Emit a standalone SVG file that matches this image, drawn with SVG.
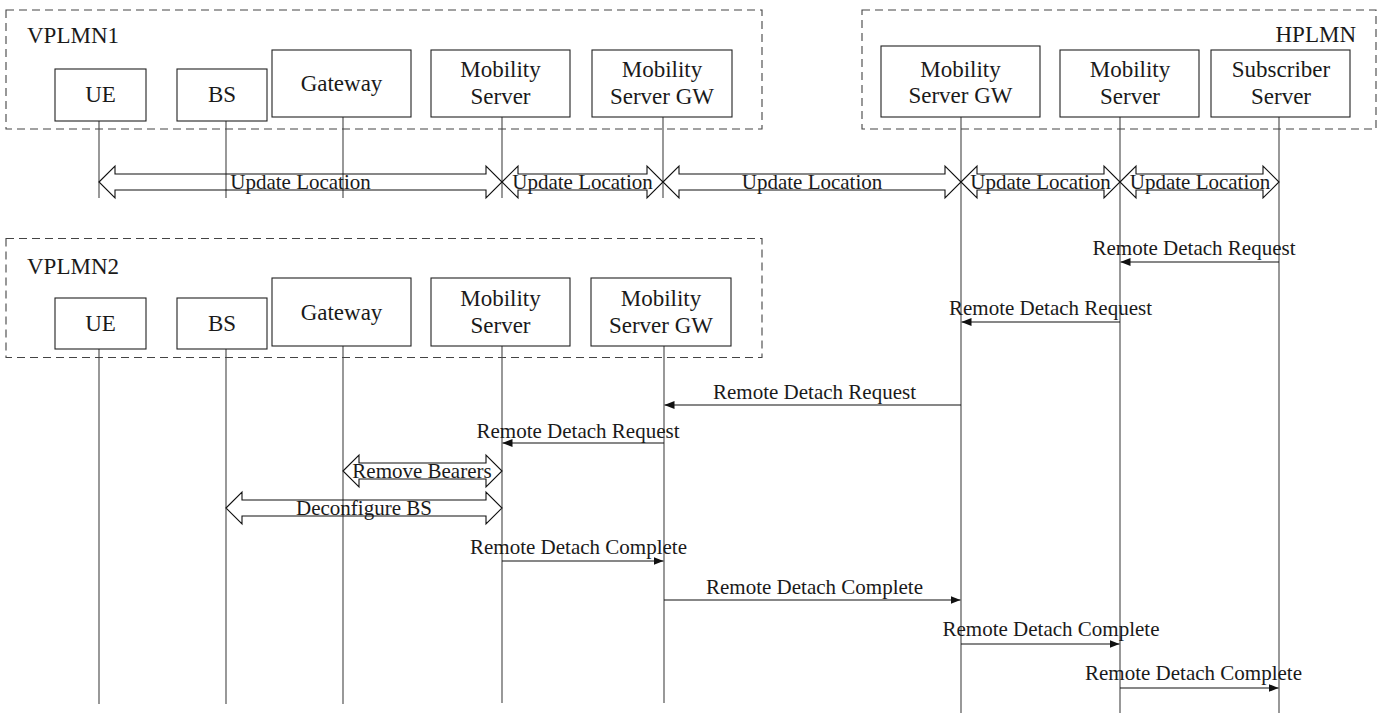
<svg xmlns="http://www.w3.org/2000/svg" width="1380" height="713" viewBox="0 0 1380 713">
  <style>
    text { font-family: "Liberation Serif", "Times New Roman", serif; fill: #1a1a1a; }
    .node-label { font-size: 23px; text-anchor: middle; }
    .area-label { font-size: 23px; }
    .msg-label { font-size: 21px; text-anchor: middle; }
    .box { fill: #ffffff; stroke: #222; stroke-width: 1.1; }
    .area { fill: none; stroke: #444; stroke-width: 1.1; stroke-dasharray: 8 5; }
    .life { stroke: #444; stroke-width: 1.1; fill: none; }
    .msg { stroke: #111; stroke-width: 1.1; fill: none; marker-end: url(#head); }
    .dbl { fill: none; stroke: #111; stroke-width: 1.1; stroke-linejoin: miter; }
  </style>
  <defs>
    <marker id="head" viewBox="0 0 10 8" refX="10" refY="4" markerWidth="10" markerHeight="8" markerUnits="userSpaceOnUse" orient="auto">
      <path d="M0,0 L10,4 L0,8 Z" fill="#111"/>
    </marker>
  </defs>

  <rect width="1380" height="713" fill="#ffffff"/>

  <!-- network areas -->
  <g id="area-vplmn1">
    <rect class="area" x="6" y="10" width="756" height="119"/>
    <text class="area-label" x="27" y="43">VPLMN1</text>
  </g>
  <g id="area-hplmn">
    <rect class="area" x="862" y="10" width="514" height="119"/>
    <text class="area-label" x="1356" y="42" text-anchor="end">HPLMN</text>
  </g>
  <g id="area-vplmn2">
    <rect class="area" x="6" y="238.5" width="756" height="119"/>
    <text class="area-label" x="27" y="274">VPLMN2</text>
  </g>

  <!-- lifelines -->
  <g id="lifelines">
    <line class="life" x1="99" y1="121" x2="99" y2="198"/>
    <line class="life" x1="226" y1="121" x2="226" y2="198"/>
    <line class="life" x1="343" y1="117" x2="343" y2="198"/>
    <line class="life" x1="502" y1="117" x2="502" y2="198"/>
    <line class="life" x1="663" y1="117" x2="663" y2="198"/>
    <line class="life" x1="961" y1="117" x2="961" y2="713"/>
    <line class="life" x1="1120" y1="117" x2="1120" y2="713"/>
    <line class="life" x1="1279" y1="117" x2="1279" y2="713"/>
    <line class="life" x1="99" y1="349" x2="99" y2="704"/>
    <line class="life" x1="226" y1="349" x2="226" y2="704"/>
    <line class="life" x1="343" y1="346" x2="343" y2="704"/>
    <line class="life" x1="502" y1="346" x2="502" y2="703"/>
    <line class="life" x1="664" y1="346" x2="664" y2="703"/>
  </g>

  <!-- VPLMN1 entities -->
  <g id="v1-ue">
    <rect class="box" x="55" y="69" width="91" height="52"/>
    <text class="node-label" x="100.5" y="102">UE</text>
  </g>
  <g id="v1-bs">
    <rect class="box" x="177" y="69" width="90" height="52"/>
    <text class="node-label" x="222" y="102">BS</text>
  </g>
  <g id="v1-gateway">
    <rect class="box" x="272" y="50" width="139" height="67"/>
    <text class="node-label" x="341.5" y="91">Gateway</text>
  </g>
  <g id="v1-mobility-server">
    <rect class="box" x="431" y="50" width="139" height="67"/>
    <text class="node-label" x="500.5" y="77">Mobility</text>
    <text class="node-label" x="500.5" y="104">Server</text>
  </g>
  <g id="v1-mobility-server-gw">
    <rect class="box" x="592" y="50" width="140" height="67"/>
    <text class="node-label" x="662" y="77">Mobility</text>
    <text class="node-label" x="662" y="104">Server GW</text>
  </g>

  <!-- HPLMN entities -->
  <g id="h-mobility-server-gw">
    <rect class="box" x="881" y="46" width="159" height="71"/>
    <text class="node-label" x="960.5" y="77">Mobility</text>
    <text class="node-label" x="960.5" y="103">Server GW</text>
  </g>
  <g id="h-mobility-server">
    <rect class="box" x="1060" y="50" width="139" height="67"/>
    <text class="node-label" x="1130" y="77">Mobility</text>
    <text class="node-label" x="1130" y="104">Server</text>
  </g>
  <g id="h-subscriber-server">
    <rect class="box" x="1211" y="50" width="139" height="67"/>
    <text class="node-label" x="1281" y="77">Subscriber</text>
    <text class="node-label" x="1281" y="104">Server</text>
  </g>

  <!-- VPLMN2 entities -->
  <g id="v2-ue">
    <rect class="box" x="55" y="298" width="91" height="51"/>
    <text class="node-label" x="100.5" y="331">UE</text>
  </g>
  <g id="v2-bs">
    <rect class="box" x="177" y="298" width="90" height="51"/>
    <text class="node-label" x="222" y="331">BS</text>
  </g>
  <g id="v2-gateway">
    <rect class="box" x="272" y="278" width="139" height="68"/>
    <text class="node-label" x="341.5" y="320">Gateway</text>
  </g>
  <g id="v2-mobility-server">
    <rect class="box" x="431" y="278" width="139" height="68"/>
    <text class="node-label" x="500.5" y="306">Mobility</text>
    <text class="node-label" x="500.5" y="333">Server</text>
  </g>
  <g id="v2-mobility-server-gw">
    <rect class="box" x="591" y="278" width="140" height="68"/>
    <text class="node-label" x="661" y="306">Mobility</text>
    <text class="node-label" x="661" y="333">Server GW</text>
  </g>

  <!-- messages -->
  <g id="connectors">
    <!-- Update Location exchanges (double-headed) -->
    <polygon class="dbl" points="99,182 115,166 115,174 486,174 486,166 502,182 486,198 486,190 115,190 115,198"/>
    <text class="msg-label" x="300.5" y="189">Update Location</text>
    <polygon class="dbl" points="502,182 518,166 518,174 647,174 647,166 663,182 647,198 647,190 518,190 518,198"/>
    <text class="msg-label" x="582.5" y="189">Update Location</text>
    <polygon class="dbl" points="663,182 679,166 679,174 945,174 945,166 961,182 945,198 945,190 679,190 679,198"/>
    <text class="msg-label" x="812" y="189">Update Location</text>
    <polygon class="dbl" points="961,182 977,166 977,174 1104,174 1104,166 1120,182 1104,198 1104,190 977,190 977,198"/>
    <text class="msg-label" x="1040.5" y="189">Update Location</text>
    <polygon class="dbl" points="1120,182 1136,166 1136,174 1263,174 1263,166 1279,182 1263,198 1263,190 1136,190 1136,198"/>
    <text class="msg-label" x="1200" y="189">Update Location</text>

    <!-- detach requests -->
    <line class="msg" x1="1279" y1="262" x2="1120.5" y2="262"/>
    <text class="msg-label" x="1194" y="255">Remote Detach Request</text>
    <line class="msg" x1="1120" y1="322" x2="961.5" y2="322"/>
    <text class="msg-label" x="1050.5" y="315">Remote Detach Request</text>
    <line class="msg" x1="961" y1="405" x2="664.5" y2="405"/>
    <text class="msg-label" x="814.5" y="399">Remote Detach Request</text>
    <line class="msg" x1="664" y1="443" x2="502.5" y2="443"/>
    <text class="msg-label" x="578" y="438">Remote Detach Request</text>

    <!-- bearer and BS teardown (double-headed) -->
    <polygon class="dbl" points="343,471 359,455 359,463 486,463 486,455 502,471 486,487 486,479 359,479 359,487"/>
    <text class="msg-label" x="422" y="478">Remove Bearers</text>
    <polygon class="dbl" points="226,508 242,492 242,500 486,500 486,492 502,508 486,524 486,516 242,516 242,524"/>
    <text class="msg-label" x="364" y="515">Deconfigure BS</text>

    <!-- detach completions -->
    <line class="msg" x1="502" y1="561" x2="663.5" y2="561"/>
    <text class="msg-label" x="578.5" y="554">Remote Detach Complete</text>
    <line class="msg" x1="664" y1="600" x2="960.5" y2="600"/>
    <text class="msg-label" x="814.5" y="594">Remote Detach Complete</text>
    <line class="msg" x1="961" y1="644" x2="1119.5" y2="644"/>
    <text class="msg-label" x="1051" y="636">Remote Detach Complete</text>
    <line class="msg" x1="1120" y1="688" x2="1278.5" y2="688"/>
    <text class="msg-label" x="1193.5" y="680">Remote Detach Complete</text>
  </g>
</svg>
